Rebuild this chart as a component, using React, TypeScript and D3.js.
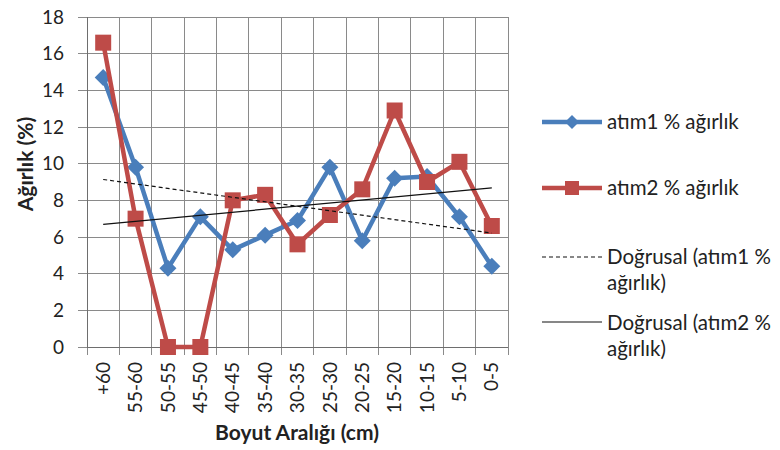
import React from "react";
import * as d3 from "d3";

// Size classes (cm) along the x axis
const categories = ["+60", "55-60", "50-55", "45-50", "40-45", "35-40", "30-35", "25-30", "20-25", "15-20", "10-15", "5-10", "0-5"];
// Weight percentages per size class
const atim1 = [14.7, 9.8, 4.3, 7.1, 5.3, 6.1, 6.9, 9.8, 5.8, 9.2, 9.3, 7.1, 4.4];
const atim2 = [16.6, 7.0, 0, 0, 8.0, 8.3, 5.6, 7.2, 8.6, 12.9, 9.0, 10.1, 6.6];
const yTicks = [0, 2, 4, 6, 8, 10, 12, 14, 16, 18];

const W = 780;
const H = 450;
const plot = { left: 87, right: 508, top: 17, bottom: 347 };
const FONT = "Lato, 'Open Sans', sans-serif";
const BLUE = "#4a7ebb";
const RED = "#be4b48";

// Least-squares line over category index
function linearFit(values: number[]) {
  const n = values.length;
  const xs = values.map((_, i) => i + 1);
  const mx = d3.mean(xs)!;
  const my = d3.mean(values)!;
  const sxy = d3.sum(xs, (x, i) => (x - mx) * (values[i] - my));
  const sxx = d3.sum(xs, (x) => (x - mx) * (x - mx));
  const slope = sxy / sxx;
  const intercept = my - slope * mx;
  return [intercept + slope * 1, intercept + slope * n];
}

function diamondPath(cx: number, cy: number, r: number) {
  return `M${cx},${cy - r}L${cx + r},${cy}L${cx},${cy + r}L${cx - r},${cy}Z`;
}

export default function App() {
  const x = d3.scaleBand<string>().domain(categories).range([plot.left, plot.right]);
  const y = d3.scaleLinear().domain([0, 18]).range([plot.bottom, plot.top]);
  const cx = (c: string) => (x(c) as number) + x.bandwidth() / 2;

  const line = d3
    .line<number>()
    .x((_, i) => cx(categories[i]))
    .y((v) => y(v));

  const trend1 = linearFit(atim1);
  const trend2 = linearFit(atim2);
  const first = cx(categories[0]);
  const last = cx(categories[categories.length - 1]);

  const gridXs = categories.map((c) => x(c) as number).concat([plot.right]);

  const legendX0 = 542;
  const legendX1 = 602;
  const legendTextX = 607;

  return (
    <svg
      width={W}
      height={H}
      style={{ position: "absolute", left: 0, top: 0, background: "#fff" }}
      fontFamily={FONT}
    >
      {/* grid */}
      <g stroke="#8a8a8a" strokeWidth={1} shapeRendering="crispEdges">
        {yTicks.map((t) => (
          <line key={"h" + t} x1={plot.left - 9} x2={plot.right} y1={y(t)} y2={y(t)} />
        ))}
        {gridXs.map((gx, i) => (
          <line key={"v" + i} x1={gx} x2={gx} y1={plot.top} y2={plot.bottom + 8} />
        ))}
      </g>
      <g stroke="#6e6e6e" strokeWidth={1} shapeRendering="crispEdges">
        <line x1={plot.left} x2={plot.left} y1={plot.top} y2={plot.bottom} />
        <line x1={plot.left} x2={plot.right} y1={plot.bottom} y2={plot.bottom} />
      </g>

      {/* y tick labels */}
      <g fontSize={19} fill="#222" textAnchor="end">
        {yTicks.map((t) => (
          <text key={t} x={64} y={y(t)} dy="0.35em">
            {t}
          </text>
        ))}
      </g>

      {/* x tick labels */}
      <g fontSize={19} fill="#222" textAnchor="end">
        {categories.map((c) => (
          <text key={c} transform={`translate(${cx(c)},362) rotate(-90)`} dy="0.35em">
            {c}
          </text>
        ))}
      </g>

      {/* axis titles */}
      <text
        x={297}
        y={440}
        textAnchor="middle"
        fontSize={21}
        fontWeight="bold"
        fill="#222"
      >
        Boyut Aralığı (cm)
      </text>
      <text
        transform="translate(26,164) rotate(-90)"
        textAnchor="middle"
        dy="0.35em"
        fontSize={21}
        fontWeight="bold"
        fill="#222"
      >
        Ağırlık (%)
      </text>

      {/* series */}
      <path d={line(atim1) ?? ""} fill="none" stroke={BLUE} strokeWidth={4.5} strokeLinejoin="round" />
      {atim1.map((v, i) => (
        <path key={"d" + i} d={diamondPath(cx(categories[i]), y(v), 8.5)} fill={BLUE} />
      ))}
      <path d={line(atim2) ?? ""} fill="none" stroke={RED} strokeWidth={4.5} strokeLinejoin="round" />
      {atim2.map((v, i) => (
        <rect
          key={"s" + i}
          x={cx(categories[i]) - 8}
          y={y(v) - 8}
          width={16}
          height={16}
          fill={RED}
        />
      ))}

      {/* linear trend lines */}
      <line
        x1={first}
        x2={last}
        y1={y(trend1[0])}
        y2={y(trend1[1])}
        stroke="#111"
        strokeWidth={1.2}
        strokeDasharray="4,3"
      />
      <line x1={first} x2={last} y1={y(trend2[0])} y2={y(trend2[1])} stroke="#111" strokeWidth={1.2} />

      {/* legend */}
      <g fontSize={20.5} fill="#222">
        <line x1={legendX0} x2={legendX1} y1={122} y2={122} stroke={BLUE} strokeWidth={4.5} />
        <path d={diamondPath(572, 122, 7)} fill={BLUE} />
        <text x={legendTextX} y={122} dy="0.35em">
          atım1 % ağırlık
        </text>

        <line x1={legendX0} x2={legendX1} y1={188} y2={188} stroke={RED} strokeWidth={4.5} />
        <rect x={565} y={181} width={14} height={14} fill={RED} />
        <text x={legendTextX} y={188} dy="0.35em">
          atım2 % ağırlık
        </text>

        <line
          x1={legendX0}
          x2={legendX1}
          y1={257}
          y2={257}
          stroke="#111"
          strokeWidth={1.2}
          strokeDasharray="4,3"
        />
        <text x={legendTextX} y={264}>
          Doğrusal (atım1 %
        </text>
        <text x={legendTextX} y={290}>
          ağırlık)
        </text>

        <line x1={legendX0} x2={legendX1} y1={322} y2={322} stroke="#111" strokeWidth={1.2} />
        <text x={legendTextX} y={330}>
          Doğrusal (atım2 %
        </text>
        <text x={legendTextX} y={356}>
          ağırlık)
        </text>
      </g>
    </svg>
  );
}
